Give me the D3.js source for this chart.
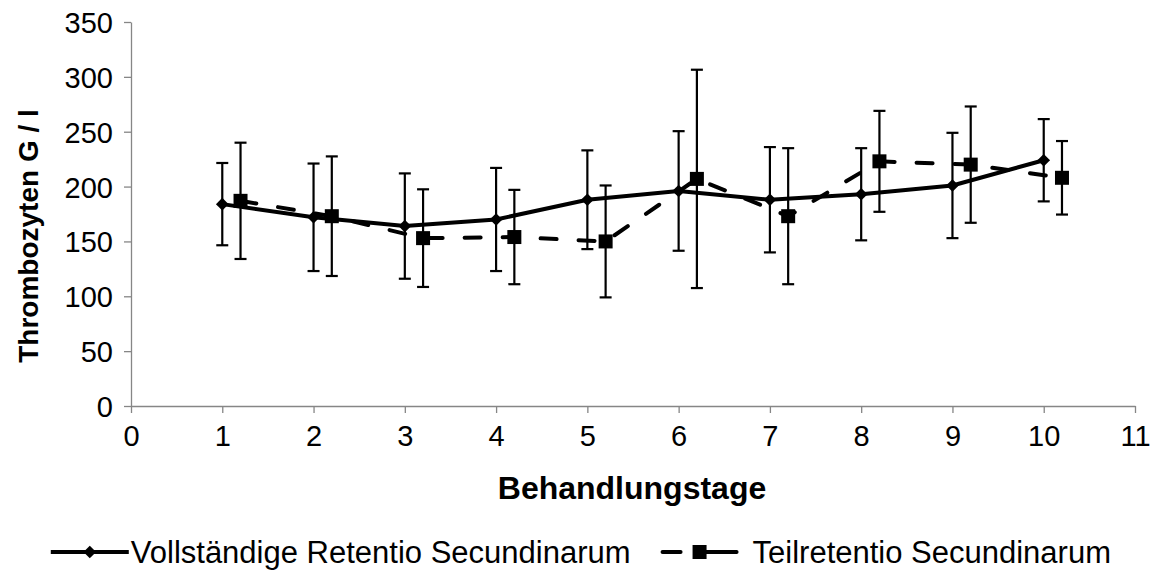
<!DOCTYPE html>
<html>
<head>
<meta charset="utf-8">
<script src="https://cdn.jsdelivr.net/npm/d3@7/dist/d3.min.js"></script>
<style>
  html, body { margin: 0; padding: 0; background: #fff; }
  svg { display: block; font-family: "Liberation Sans", Arial, sans-serif; }
</style>
</head>
<body>
<svg id="chart" width="1155" height="580"></svg>
<script>
// Treatment days
const days = [1, 2, 3, 4, 5, 6, 7, 8, 9, 10];

// Complete retention of the placenta: mean platelet count and standard deviation
const vollMean = [184, 172, 164, 170, 188, 196, 188, 193, 201, 224];
const vollSD   = [37.5, 49, 48, 47, 45, 54.5, 48, 42, 48, 37.5];

// Partial retention of the placenta: mean platelet count and standard deviation
const teilMean = [187, 173, 153, 154, 150, 207, 173, 223, 220, 208];
const teilSD   = [53, 54.5, 44.5, 43, 51, 99.5, 62, 46, 53, 33.5];

const xTicks = [0, 1, 2, 3, 4, 5, 6, 7, 8, 9, 10, 11];
const yTicks = [0, 50, 100, 150, 200, 250, 300, 350];

const seriesNames = ["Vollständige Retentio Secundinarum", "Teilretentio Secundinarum"];
const xTitle = "Behandlungstage";
const yTitle = "Thrombozyten G / l";

const svg = d3.select("#chart");

const x = d3.scaleLinear().domain([0, 11]).range([131, 1135]);
const y = d3.scaleLinear().domain([0, 350]).range([406, 22]);

const axisColor = "#868686";
const tickFont = "29px";
const legendFont = "31px";

// Axes
const xAxis = svg.append("g")
  .attr("transform", `translate(0,${y(0)})`)
  .call(d3.axisBottom(x).tickValues(xTicks).tickSize(7).tickSizeOuter(0).tickPadding(11));
const yAxis = svg.append("g")
  .attr("transform", `translate(${x(0)},0)`)
  .call(d3.axisLeft(y).tickValues(yTicks).tickSize(7).tickSizeOuter(0).tickPadding(11));

[xAxis, yAxis].forEach(g => {
  g.select(".domain").attr("stroke", axisColor).attr("stroke-width", 1.3);
  g.selectAll(".tick line").attr("stroke", axisColor).attr("stroke-width", 1.3);
  g.selectAll(".tick text")
    .attr("fill", "#000")
    .style("font-size", tickFont)
    .style("font-family", "'Liberation Sans', Arial, sans-serif");
});
xAxis.selectAll(".tick text").attr("dy", "0.75em");
yAxis.selectAll(".tick text").attr("dy", "0.36em");

// Axis titles
svg.append("text")
  .attr("x", 632).attr("y", 499)
  .attr("text-anchor", "middle")
  .style("font-size", "32px").style("font-weight", "bold")
  .text(xTitle);

svg.append("text")
  .attr("transform", "translate(38,236) rotate(-90)")
  .attr("text-anchor", "middle")
  .style("font-size", "28px").style("font-weight", "bold")
  .text(yTitle);

const offsetB = 0.2;

const dataA = days.map((d, i) => ({ x: d, m: vollMean[i], sd: vollSD[i] }));
const dataB = days.map((d, i) => ({ x: d + offsetB, m: teilMean[i], sd: teilSD[i] }));

function errorBars(data) {
  const g = svg.append("g").attr("stroke", "#000").attr("stroke-width", 2.2).attr("fill", "none");
  data.forEach(d => {
    const cx = x(d.x);
    g.append("line").attr("x1", cx).attr("x2", cx).attr("y1", y(d.m + d.sd)).attr("y2", y(d.m - d.sd));
    g.append("line").attr("x1", cx - 6).attr("x2", cx + 6).attr("y1", y(d.m + d.sd)).attr("y2", y(d.m + d.sd));
    g.append("line").attr("x1", cx - 6).attr("x2", cx + 6).attr("y1", y(d.m - d.sd)).attr("y2", y(d.m - d.sd));
  });
}

const line = d3.line().x(d => x(d.x)).y(d => y(d.m));

errorBars(dataB);
errorBars(dataA);

// Partial retention: dashed line with squares
svg.append("path").datum(dataB)
  .attr("d", line)
  .attr("fill", "none").attr("stroke", "#000").attr("stroke-width", 4)
  .attr("stroke-dasharray", "16,22").attr("stroke-linecap", "round");
svg.append("g").selectAll("rect").data(dataB).join("rect")
  .attr("x", d => x(d.x) - 7).attr("y", d => y(d.m) - 7)
  .attr("width", 14).attr("height", 14).attr("fill", "#000");

// Complete retention: solid line with diamonds
svg.append("path").datum(dataA)
  .attr("d", line)
  .attr("fill", "none").attr("stroke", "#000").attr("stroke-width", 4)
  .attr("stroke-linejoin", "round");
const diamond = d3.symbol().type(d3.symbolSquare).size(80);
svg.append("g").selectAll("path").data(dataA).join("path")
  .attr("d", diamond)
  .attr("transform", d => `translate(${x(d.x)},${y(d.m)}) rotate(45)`)
  .attr("fill", "#000");

// Legend, right edge aligned with the last tick label
const legY = 552;
const leg = svg.append("g");
const swatchW = 78;

const g1 = leg.append("g");
g1.append("line").attr("x1", 0).attr("x2", swatchW).attr("y1", 0).attr("y2", 0)
  .attr("stroke", "#000").attr("stroke-width", 4);
g1.append("path").attr("d", diamond).attr("transform", `translate(${swatchW / 2},0) rotate(45)`).attr("fill", "#000");
const t1 = g1.append("text").attr("x", swatchW + 2).attr("y", 0).attr("dy", "0.36em")
  .style("font-size", legendFont).text(seriesNames[0]);

const g2 = leg.append("g");
g2.append("line").attr("x1", 2).attr("x2", 20).attr("y1", 0).attr("y2", 0)
  .attr("stroke", "#000").attr("stroke-width", 4).attr("stroke-linecap", "round");
g2.append("line").attr("x1", swatchW / 2).attr("x2", swatchW - 2).attr("y1", 0).attr("y2", 0)
  .attr("stroke", "#000").attr("stroke-width", 4).attr("stroke-linecap", "round");
g2.append("rect").attr("x", swatchW / 2 - 7).attr("y", -7).attr("width", 14).attr("height", 14).attr("fill", "#000");
const t2 = g2.append("text").attr("x", swatchW + 14).attr("y", 0).attr("dy", "0.36em")
  .style("font-size", legendFont).text(seriesNames[1]);

const w1 = swatchW + 2 + t1.node().getComputedTextLength();
const w2 = swatchW + 14 + t2.node().getComputedTextLength();
const gap = 30;
const startX = 1111 - (w1 + gap + w2);
g1.attr("transform", `translate(${startX},${legY})`);
g2.attr("transform", `translate(${startX + w1 + gap},${legY})`);
</script>
</body>
</html>
